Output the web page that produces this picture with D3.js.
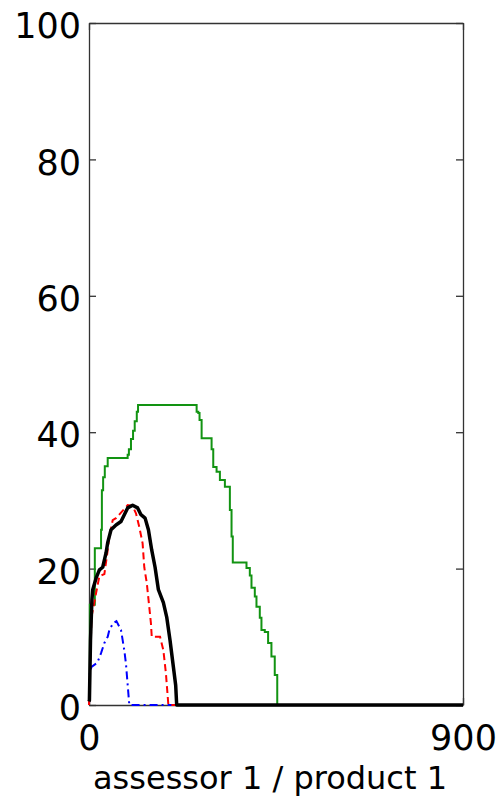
<!doctype html>
<html>
<head>
  <meta charset="utf-8">
  <script src="https://d3js.org/d3.v7.min.js"></script>
  <style>
    body { margin: 0; background: #fff; }
    text { font-family: "DejaVu Sans", sans-serif; fill: #000; }
  </style>
</head>
<body>
<div id="chart"></div>
<script>

// axis settings
var xDomain = [0, 900],
    yDomain = [0, 100];
var xTicks = [0, 900],
    yTicks = [0, 20, 40, 60, 80, 100];
var xLabel = "assessor 1 / product 1";

// green staircase (value holds until next x)
var greenSeries = [
  [0, 2], [2, 14.7], [14, 23], [29, 25.7], [31, 31.5], [34, 33.4], [38, 35],
  [45, 36.2], [93, 36.7], [96, 37.5], [101, 39], [106, 40.2], [110, 41.6],
  [115, 43], [118, 44], [259, 43], [263, 42.8], [266, 41.8], [271, 39.1],
  [295, 37.5], [299, 34.9], [307, 34.2], [315, 33], [327, 32], [339, 28.6],
  [343, 24.7], [346, 20.9], [379, 20.1], [387, 19], [391, 17.2], [399, 15.9],
  [403, 14.4], [411, 12.8], [415, 11], [423, 10.7], [431, 9.1], [439, 7.1],
  [447, 4.4], [453, 0], [900, 0]
];

// blue dash-dot
var blueSeries = [
  [0, 0], [2, 4.7], [6, 5.6], [20, 6.2], [29, 7.6], [37, 9.1], [45, 10],
  [49, 11], [58, 12], [66, 12.3], [77, 11], [81, 9.5], [85, 8], [89, 6],
  [93, 3], [97, 0], [900, 0]
];

// red dashed
var redSeries = [
  [0, 0], [2, 4], [4, 8.5], [6, 12.9], [17, 16.4], [25, 18.9], [37, 19.2],
  [45, 22.7], [49, 24.7], [57, 27.1], [65, 27.4], [77, 28.2], [93, 29.3],
  [105, 29.2], [113, 28.1], [121, 26.1], [129, 23.7], [133, 20.2],
  [139, 17.9], [145, 14.4], [149, 12], [151, 10], [171, 10], [179, 8],
  [185, 4.7], [191, 0], [900, 0]
];

// black thick
var blackSeries = [
  [0, 0.5], [1, 0.7], [3.6, 9.5], [7, 15.4], [9, 16.9], [17, 18.6],
  [25, 19.8], [33, 20.2], [41, 22.3], [45, 23.8], [53, 25.7], [65, 26.4],
  [77, 26.9], [85, 27.9], [93, 28.9], [105, 29.3], [117, 28.9], [125, 27.9],
  [135, 27.4], [143, 25.7], [151, 22.7], [159, 20.2], [167, 16.9],
  [179, 15], [187, 12.9], [195, 9.5], [203, 5.6], [208.6, 2.9], [211, 0],
  [900, 0]
];

var margin = {top: 23, right: 37, bottom: 93, left: 89},
    width = 500 - margin.left - margin.right,
    height = 798 - margin.top - margin.bottom;

var svg = d3.select("#chart")
  .append("svg")
    .attr("width", 500)
    .attr("height", 798)
  .append("g")
    .attr("transform", "translate(" + margin.left + "," + margin.top + ")");

var x = d3.scaleLinear().domain(xDomain).range([0, width]);
var y = d3.scaleLinear().domain(yDomain).range([height, 0]);

// box and inward ticks
var tickLen = 7;
function styleAxis(g) {
  g.selectAll("path.domain").attr("stroke", "#333").attr("stroke-width", 1.3);
  g.selectAll(".tick line").attr("stroke", "#333").attr("stroke-width", 1.3);
}

svg.append("g")
    .attr("transform", "translate(0," + height + ")")
    .call(d3.axisBottom(x).tickValues(xTicks).tickSizeInner(-tickLen).tickSizeOuter(0).tickPadding(20))
    .call(styleAxis)
    .call(function(g) {
      g.selectAll("text").attr("font-size", 35).attr("font-family", "DejaVu Sans")
        .attr("dy", "0.71em").attr("y", 20).attr("fill", "#000");
    });

svg.append("g")
    .call(d3.axisTop(x).tickValues(xTicks).tickSizeInner(-tickLen).tickSizeOuter(0).tickFormat(""))
    .call(styleAxis);

svg.append("g")
    .call(d3.axisLeft(y).tickValues(yTicks).tickSizeInner(-tickLen).tickSizeOuter(0))
    .call(styleAxis)
    .call(function(g) {
      g.selectAll("text").attr("font-size", 35).attr("font-family", "DejaVu Sans")
        .attr("x", -8).attr("dy", "0.42em").attr("fill", "#000");
    });

svg.append("g")
    .attr("transform", "translate(" + width + ",0)")
    .call(d3.axisRight(y).tickValues(yTicks).tickSizeInner(-tickLen).tickSizeOuter(0).tickFormat(""))
    .call(styleAxis);

// lines
var linear = d3.line()
    .x(function(d) { return x(d[0]); })
    .y(function(d) { return y(d[1]); });

var stepped = d3.line()
    .curve(d3.curveStepAfter)
    .x(function(d) { return x(d[0]); })
    .y(function(d) { return y(d[1]); });

svg.append("path")
    .datum(greenSeries)
    .attr("fill", "none")
    .attr("stroke", "#129312")
    .attr("stroke-width", 2)
    .attr("d", stepped);

svg.append("path")
    .datum(blueSeries)
    .attr("fill", "none")
    .attr("stroke", "#0000ff")
    .attr("stroke-width", 2)
    .attr("stroke-dasharray", "8,4,2,4")
    .attr("d", linear);

svg.append("path")
    .datum(redSeries)
    .attr("fill", "none")
    .attr("stroke", "#ff0000")
    .attr("stroke-width", 2)
    .attr("stroke-dasharray", "7,4")
    .attr("d", linear);

svg.append("path")
    .datum(blackSeries)
    .attr("fill", "none")
    .attr("stroke", "#000")
    .attr("stroke-width", 3.5)
    .attr("stroke-linejoin", "round")
    .attr("d", linear);

// x label
svg.append("text")
    .attr("x", width / 2 - 6)
    .attr("y", height + 84)
    .attr("text-anchor", "middle")
    .attr("font-size", 32)
    .text(xLabel);

</script>
</body>
</html>
